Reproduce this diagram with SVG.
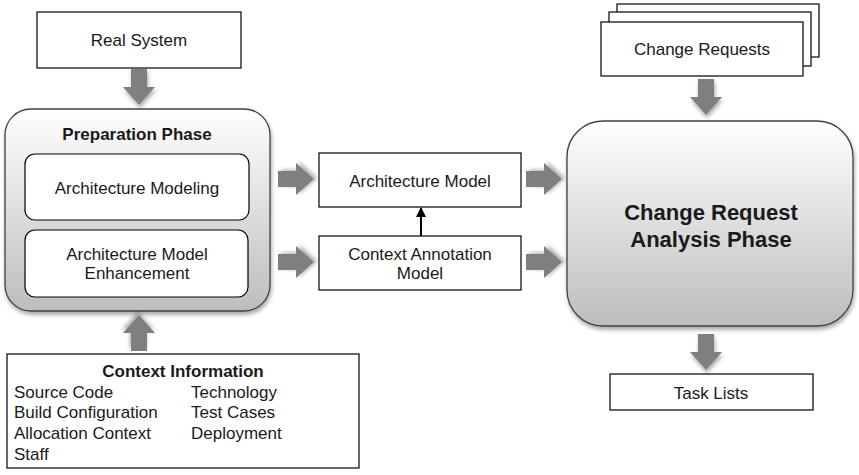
<svg xmlns="http://www.w3.org/2000/svg" width="859" height="475" viewBox="0 0 859 475">
<defs>
<linearGradient id="g" x1="0" y1="0" x2="0" y2="1">
<stop offset="0" stop-color="#ffffff"/>
<stop offset="1" stop-color="#bdbdbd"/>
</linearGradient>
<filter id="sh" x="-10%" y="-10%" width="130%" height="130%">
<feGaussianBlur in="SourceAlpha" stdDeviation="2"/>
<feOffset dx="1" dy="3" result="b"/>
<feComponentTransfer><feFuncA type="linear" slope="0.35"/></feComponentTransfer>
<feMerge><feMergeNode/><feMergeNode in="SourceGraphic"/></feMerge>
</filter>
<marker id="ah" viewBox="0 0 10 10" refX="9" refY="5" markerWidth="5" markerHeight="5" orient="auto">
<path d="M0,0 L10,5 L0,10 z" fill="#000"/>
</marker>
<path id="ad" d="M-8,-18 H8 V0 H16 L0,18 L-16,0 H-8 Z"/>
</defs>
<style>
text{font-family:"Liberation Sans",Arial,sans-serif;font-size:17px;fill:#1a1a1a}
.c{text-anchor:middle}
.b{font-weight:bold}
.big{font-size:22px}
.box{fill:#fff;stroke:#000;stroke-width:1.2}
.phase{fill:url(#g);stroke:#404040;stroke-width:1.3}
.inner{fill:#fff;stroke:#000;stroke-width:1.2}
.fat{fill:#7f7f7f;filter:url(#sh)}
</style>

<g id="real-system">
<rect class="box" x="37" y="12" width="204" height="56"/>
<text class="c" x="139" y="46">Real System</text>
</g>

<g id="preparation-phase">
<rect class="phase" x="5" y="109" width="265" height="202" rx="26" filter="url(#sh)"/>
<text class="c b" x="137" y="140">Preparation Phase</text>
<g id="architecture-modeling">
<rect class="inner" x="25" y="154" width="224" height="66" rx="10"/>
<text class="c" x="137" y="194">Architecture Modeling</text>
</g>
<g id="architecture-model-enhancement">
<rect class="inner" x="25" y="230" width="223" height="67" rx="10"/>
<text class="c" x="137" y="260">Architecture Model</text>
<text class="c" x="137" y="279">Enhancement</text>
</g>
</g>

<g id="context-information">
<rect class="box" x="7" y="354" width="352" height="114"/>
<text class="c b" x="183" y="377">Context Information</text>
<text x="14" y="398">Source Code</text>
<text x="14" y="418">Build Configuration</text>
<text x="14" y="439">Allocation Context</text>
<text x="14" y="460">Staff</text>
<text x="191" y="398">Technology</text>
<text x="191" y="418">Test Cases</text>
<text x="191" y="439">Deployment</text>
</g>

<g id="architecture-model">
<rect class="box" x="319" y="153" width="202" height="54"/>
<text class="c" x="420" y="187">Architecture Model</text>
</g>

<g id="context-annotation-model">
<rect class="box" x="319" y="236" width="202" height="54"/>
<text class="c" x="420" y="260">Context Annotation</text>
<text class="c" x="420" y="279">Model</text>
</g>

<g id="change-requests">
<rect class="box" x="617" y="4" width="202" height="53"/>
<rect class="box" x="609" y="12" width="202" height="54"/>
<rect class="box" x="601" y="22" width="202" height="54"/>
<text class="c" x="702" y="55">Change Requests</text>
</g>

<g id="change-request-analysis-phase">
<rect class="phase" x="567" y="121" width="286" height="205" rx="36" filter="url(#sh)"/>
<text class="c b big" x="711" y="220">Change Request</text>
<text class="c b big" x="711" y="247">Analysis Phase</text>
</g>

<g id="task-lists">
<rect class="box" x="610" y="374" width="203" height="36"/>
<text class="c" x="711" y="399">Task Lists</text>
</g>

<g id="connectors">
<use href="#ad" class="fat" transform="translate(139,87)"/>
<use href="#ad" class="fat" transform="translate(139,333) rotate(180)"/>
<use href="#ad" class="fat" transform="translate(296,179) rotate(-90)"/>
<use href="#ad" class="fat" transform="translate(296,262) rotate(-90)"/>
<use href="#ad" class="fat" transform="translate(544,179) rotate(-90)"/>
<use href="#ad" class="fat" transform="translate(544,262) rotate(-90)"/>
<use href="#ad" class="fat" transform="translate(706,97)"/>
<use href="#ad" class="fat" transform="translate(706,352)"/>
<line x1="421" y1="236" x2="421" y2="208" stroke="#000" stroke-width="2" marker-end="url(#ah)"/>
</g>
</svg>
